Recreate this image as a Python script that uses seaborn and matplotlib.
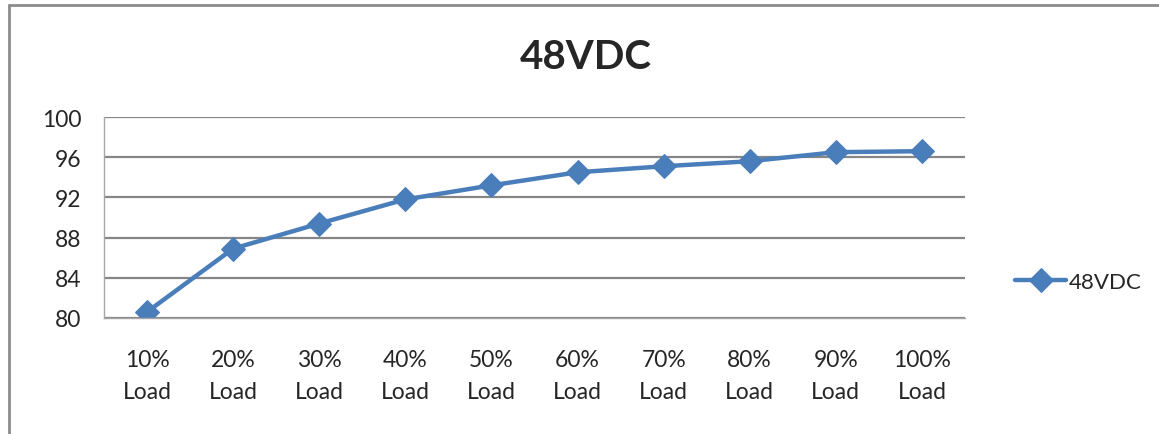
import numpy as np
import pandas as pd
import seaborn as sns
import matplotlib.pyplot as plt
from matplotlib.lines import Line2D

# Values
loads = ["10%\nLoad", "20%\nLoad", "30%\nLoad", "40%\nLoad", "50%\nLoad",
         "60%\nLoad", "70%\nLoad", "80%\nLoad", "90%\nLoad", "100%\nLoad"]
eff_48vdc = [80.6, 86.9, 89.4, 91.8, 93.2, 94.5, 95.1, 95.6, 96.5, 96.6]
y_ticks = [80, 84, 88, 92, 96, 100]

data = pd.DataFrame({"Load": loads, "48VDC": eff_48vdc})

sns.set_style("white")
plt.rcParams['font.family'] = ['Lato', 'DejaVu Sans']

fig = plt.figure(figsize=(11.59, 4.35), dpi=100)
ax = fig.add_axes([0.0897, 0.2667, 0.7429, 0.462])

blue = "#4A7EBB"
grid = "#868686"

sns.lineplot(data=data, x="Load", y="48VDC", ax=ax, color=blue, linewidth=3.2,
             marker="D", markersize=12.5, markeredgecolor=blue, label="48VDC", sort=False)

ax.set_xlim(-0.5, len(loads) - 0.5)
ax.set_ylim(80, 100)
ax.set_yticks(y_ticks)
ax.set_yticklabels([str(v) for v in y_ticks], fontsize=16.5)
ax.set_xticks(np.arange(len(loads)))
ax.set_xticklabels(loads, fontsize=16.5, linespacing=1.65)
ax.set_xticks(np.arange(-0.5, len(loads)), minor=True)
ax.tick_params(axis="x", which="major", length=0, pad=22)
ax.tick_params(axis="x", which="minor", length=6, color=grid, width=1, direction="out")
ax.tick_params(axis="y", length=6, color=grid, width=1, direction="out", pad=10)
ax.set_xlabel("")
ax.set_ylabel("")

ax.yaxis.grid(True, color=grid, linewidth=1.6)
ax.set_axisbelow(True)
for side in ["top", "right"]:
    ax.spines[side].set_visible(False)
ax.spines["left"].set_color("#a6a6a6")
ax.spines["bottom"].set_color("#a6a6a6")
ax.spines["left"].set_linewidth(1)
ax.spines["bottom"].set_linewidth(1)

leg = ax.legend(loc="center left", bbox_to_anchor=(1.035, 0.18), frameon=False,
                fontsize=16, handlelength=2.3, handletextpad=0.1)

fig.text(0.505, 0.867, "48VDC", ha="center", va="center", fontsize=29, fontweight="bold")

# chart border (top and left edges visible)
fig.add_artist(Line2D([0.0078, 1.0], [0.986, 0.986], color="#8c8c8c", linewidth=2))
fig.add_artist(Line2D([0.0078, 0.0078], [0.0, 0.986], color="#8c8c8c", linewidth=2))

fig.savefig("out.png", dpi=100)
